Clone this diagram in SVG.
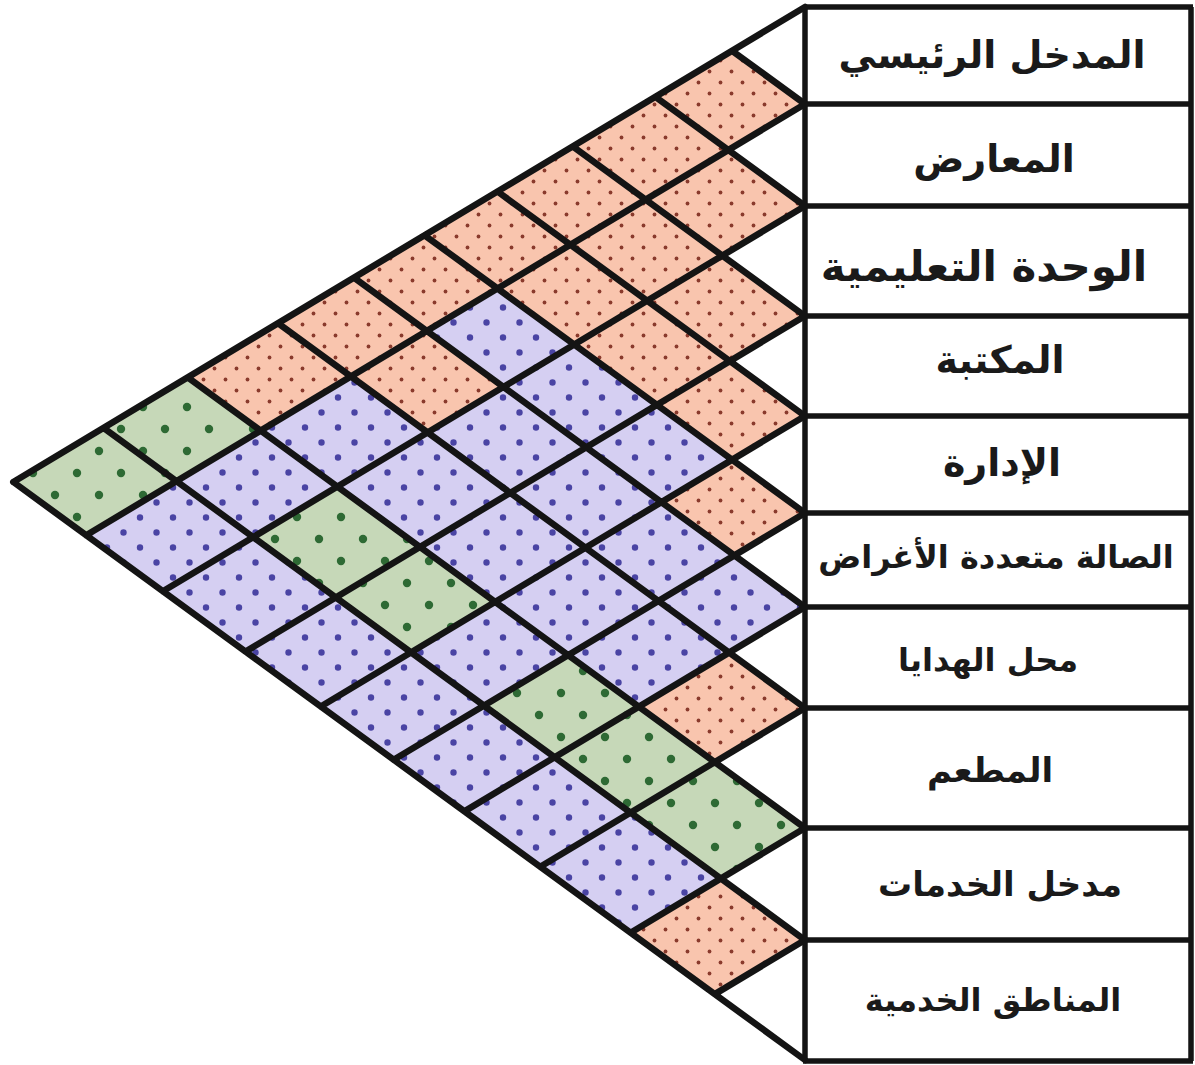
<svg xmlns="http://www.w3.org/2000/svg" width="1195" height="1065" viewBox="0 0 1195 1065">
<style>
.pk{fill:url(#pPink)}
.pu{fill:url(#pPurple)}
.gr{fill:url(#pGreen)}
.grid{fill:none;stroke:#141414;stroke-width:6.5;stroke-linecap:round;stroke-linejoin:round}
.frame{fill:none;stroke:#141414;stroke-width:5.5}
.lbl{font-family:"DejaVu Sans",sans-serif;font-weight:bold;fill:#1a1a1a;text-anchor:middle}
</style>
<defs>
<pattern id="pPink" patternUnits="userSpaceOnUse" width="22" height="22" patternTransform="matrix(0.6,-0.73,1,1,-483,587.65)">
<rect width="22" height="22" fill="#F9C5AE"/>
<circle cx="5.5" cy="5.5" r="1.9" fill="#8A3A2C"/>
<circle cx="16.5" cy="16.5" r="1.9" fill="#8A3A2C"/>
</pattern>
<pattern id="pPurple" patternUnits="userSpaceOnUse" width="33" height="30" patternTransform="matrix(0.6,-0.73,1,1,-483,587.65)">
<rect width="33" height="30" fill="#D5CFF2"/>
<circle cx="8" cy="7.5" r="3.2" fill="#4A44A4"/>
<circle cx="24.5" cy="22.5" r="3.2" fill="#4A44A4"/>
</pattern>
<pattern id="pGreen" patternUnits="userSpaceOnUse" width="44" height="44" patternTransform="matrix(0.6,-0.73,1,1,-483,587.65)">
<rect width="44" height="44" fill="#C6D8B8"/>
<circle cx="11" cy="11" r="4.2" fill="#2E6A34"/>
<circle cx="33" cy="33" r="4.2" fill="#2E6A34"/>
</pattern>
</defs>
<rect width="1195" height="1065" fill="#ffffff"/>
<g id="matrix" transform="matrix(0.7518797,0.5488722,-0.7518797,0.4511278,805,0)">
<g id="row1">
<rect id="c1-2" class="pk" x="7" y="104" width="97" height="102"/>
<rect id="c1-3" class="pk" x="7" y="206" width="97" height="110"/>
<rect id="c1-4" class="pk" x="7" y="316" width="97" height="100"/>
<rect id="c1-5" class="pk" x="7" y="416" width="97" height="97"/>
<rect id="c1-6" class="pk" x="7" y="513" width="97" height="94"/>
<rect id="c1-7" class="pk" x="7" y="607" width="97" height="101"/>
<rect id="c1-8" class="pk" x="7" y="708" width="97" height="120"/>
<rect id="c1-9" class="gr" x="7" y="828" width="97" height="112"/>
<rect id="c1-10" class="gr" x="7" y="940" width="97" height="120"/>
</g>
<g id="row2">
<rect id="c2-3" class="pk" x="104" y="206" width="102" height="110"/>
<rect id="c2-4" class="pk" x="104" y="316" width="102" height="100"/>
<rect id="c2-5" class="pk" x="104" y="416" width="102" height="97"/>
<rect id="c2-6" class="pu" x="104" y="513" width="102" height="94"/>
<rect id="c2-7" class="pk" x="104" y="607" width="102" height="101"/>
<rect id="c2-8" class="pu" x="104" y="708" width="102" height="120"/>
<rect id="c2-9" class="pu" x="104" y="828" width="102" height="112"/>
<rect id="c2-10" class="pu" x="104" y="940" width="102" height="120"/>
</g>
<g id="row3">
<rect id="c3-4" class="pk" x="206" y="316" width="110" height="100"/>
<rect id="c3-5" class="pk" x="206" y="416" width="110" height="97"/>
<rect id="c3-6" class="pu" x="206" y="513" width="110" height="94"/>
<rect id="c3-7" class="pu" x="206" y="607" width="110" height="101"/>
<rect id="c3-8" class="pu" x="206" y="708" width="110" height="120"/>
<rect id="c3-9" class="gr" x="206" y="828" width="110" height="112"/>
<rect id="c3-10" class="pu" x="206" y="940" width="110" height="120"/>
</g>
<g id="row4">
<rect id="c4-5" class="pk" x="316" y="416" width="100" height="97"/>
<rect id="c4-6" class="pu" x="316" y="513" width="100" height="94"/>
<rect id="c4-7" class="pu" x="316" y="607" width="100" height="101"/>
<rect id="c4-8" class="pu" x="316" y="708" width="100" height="120"/>
<rect id="c4-9" class="gr" x="316" y="828" width="100" height="112"/>
<rect id="c4-10" class="pu" x="316" y="940" width="100" height="120"/>
</g>
<g id="row5">
<rect id="c5-6" class="pk" x="416" y="513" width="97" height="94"/>
<rect id="c5-7" class="pu" x="416" y="607" width="97" height="101"/>
<rect id="c5-8" class="pu" x="416" y="708" width="97" height="120"/>
<rect id="c5-9" class="pu" x="416" y="828" width="97" height="112"/>
<rect id="c5-10" class="pu" x="416" y="940" width="97" height="120"/>
</g>
<g id="row6">
<rect id="c6-7" class="pu" x="513" y="607" width="94" height="101"/>
<rect id="c6-8" class="pu" x="513" y="708" width="94" height="120"/>
<rect id="c6-9" class="gr" x="513" y="828" width="94" height="112"/>
<rect id="c6-10" class="pu" x="513" y="940" width="94" height="120"/>
</g>
<g id="row7">
<rect id="c7-8" class="pk" x="607" y="708" width="101" height="120"/>
<rect id="c7-9" class="gr" x="607" y="828" width="101" height="112"/>
<rect id="c7-10" class="pu" x="607" y="940" width="101" height="120"/>
</g>
<g id="row8">
<rect id="c8-9" class="gr" x="708" y="828" width="120" height="112"/>
<rect id="c8-10" class="pu" x="708" y="940" width="120" height="120"/>
</g>
<g id="row9">
<rect id="c9-10" class="pk" x="828" y="940" width="112" height="120"/>
</g>
</g>
<g id="connectors">
<path class="grid" d="M805 7L13.3 482M805 104L86.2 535.3M805 206L162.9 591.3M805 316L245.6 651.6M805 416L320.8 706.5M805 513L393.7 759.8M805 607L464.4 811.4M805 708L540.3 866.8M805 828L630.6 932.7M805 940L714.8 994.1M805 104L732.1 50.8M805 206L655.4 96.8M805 316L572.7 146.4M805 416L497.5 191.5M805 513L424.6 235.3M805 607L353.9 277.7M805 708L277.9 323.2M805 828L187.7 377.4M805 940L103.5 427.9M805 1060L13.3 482"/>
</g>
<g id="labels-frame">
<path class="frame" d="M805 7V1061M1191 7V1061M805 7H1193M800 104H1193M800 206H1193M800 316H1193M800 416H1193M800 513H1193M800 607H1193M800 708H1193M800 828H1193M800 940H1193M803 1061H1193"/>
</g>
<g id="n1"><text class="lbl" x="992" y="68" font-size="38">المدخل الرئيسي</text></g>
<g id="n2"><text class="lbl" x="994" y="172" font-size="38">المعارض</text></g>
<g id="n3"><text class="lbl" x="984" y="281" font-size="42">الوحدة التعليمية</text></g>
<g id="n4"><text class="lbl" x="1000" y="373" font-size="38">المكتبة</text></g>
<g id="n5"><text class="lbl" x="1002" y="476" font-size="38">الإدارة</text></g>
<g id="n6"><text class="lbl" x="996" y="568" font-size="32">الصالة متعددة الأغراض</text></g>
<g id="n7"><text class="lbl" x="988" y="671" font-size="32">محل الهدايا</text></g>
<g id="n8"><text class="lbl" x="990" y="782" font-size="34">المطعم</text></g>
<g id="n9"><text class="lbl" x="1000" y="896" font-size="34">مدخل الخدمات</text></g>
<g id="n10"><text class="lbl" x="993" y="1011" font-size="32">المناطق الخدمية</text></g>
</svg>
